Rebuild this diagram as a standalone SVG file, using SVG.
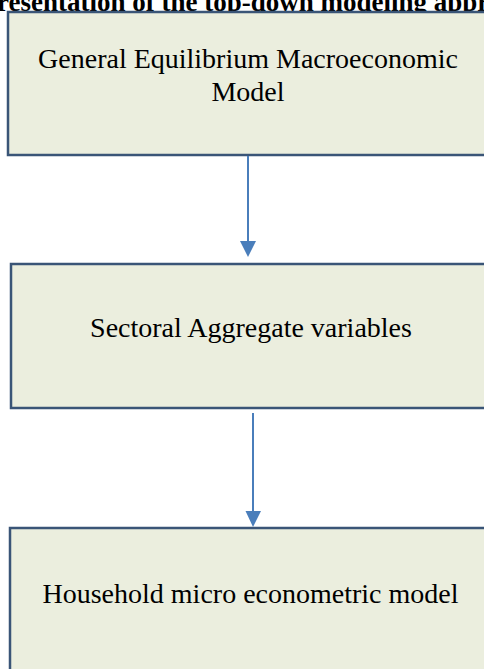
<svg xmlns="http://www.w3.org/2000/svg" width="484" height="669" viewBox="0 0 484 669">
<defs>
<style>
.box{fill:#EBEEDE;stroke:#3A5577;stroke-width:2.5}
.t{font-family:"Liberation Serif","Times New Roman",serif;font-size:28px;fill:#000;text-anchor:middle}
.title{font-family:"Liberation Serif","Times New Roman",serif;font-size:27px;font-weight:bold;fill:#000}
.c{stroke:#4A7EBB;stroke-width:2;fill:none}
</style>
</defs>
<rect width="484" height="669" fill="#fff"/>
<text class="title" x="-3" y="11">resentation of the top-down modeling appr</text>
<g id="n1">
<rect class="box" x="8" y="12" width="490" height="143"/>
<text class="t" x="248" y="68">General Equilibrium Macroeconomic</text>
<text class="t" x="248" y="101">Model</text>
</g>
<g id="n2">
<rect class="box" x="11" y="264" width="490" height="144"/>
<text class="t" x="251" y="337">Sectoral Aggregate variables</text>
</g>
<g id="n3">
<rect class="box" x="10" y="528" width="490" height="160"/>
<text class="t" x="250.5" y="603">Household micro econometric model</text>
</g>
<g id="connectors">
<line class="c" x1="248" y1="156" x2="248" y2="242"/>
<path d="M240,241 L256,241 L248,257 z" fill="#4A7EBB"/>
<line class="c" x1="253" y1="413" x2="253" y2="512"/>
<path d="M245.5,511 L261,511 L253,527 z" fill="#4A7EBB"/>
</g>
</svg>
